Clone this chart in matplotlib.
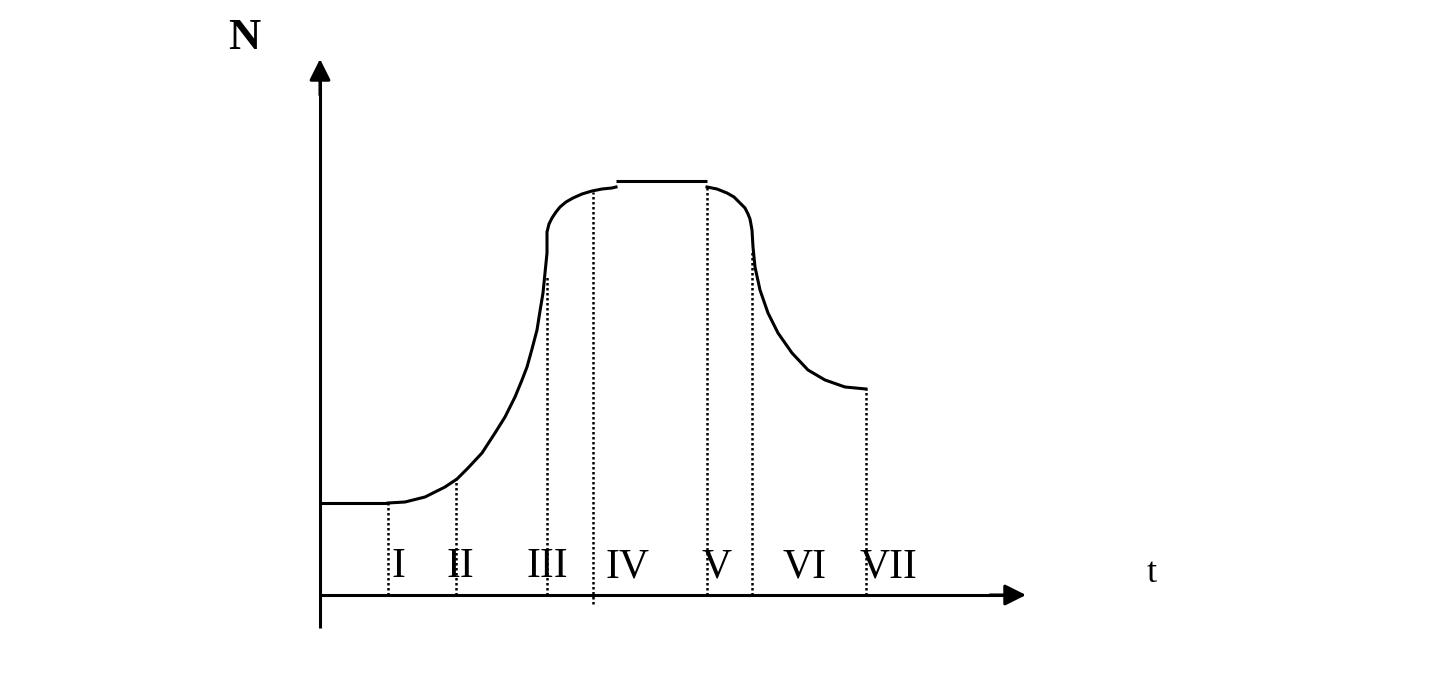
import matplotlib
matplotlib.use("Agg")
import matplotlib.pyplot as plt

# Curve (t, N)
flat_t = [0, 68]
flat_N = [92, 92]

rise_t = [68, 85, 105, 125, 137, 148, 162, 175, 185, 195, 202, 207, 212, 217, 220, 223, 225, 227, 227, 229, 232, 236, 240, 246, 253, 262, 272, 282, 292, 296]
rise_N = [92, 93, 98, 108, 116, 127, 142, 162, 178, 198, 215, 228, 246, 265, 284, 302, 322, 342, 363, 371, 377, 383, 388, 393, 397, 401, 404, 406, 407, 408]

plateau_t = [296, 387]
plateau_N = [414, 414]

fall_t = [387, 397, 407, 414, 420, 425, 428, 430, 432, 433, 435, 440, 448, 458, 472, 488, 505, 525, 546]
fall_N = [408, 406, 402, 398, 392, 387, 381, 376, 365, 348, 328, 305, 282, 262, 242, 225, 215, 208, 206]

# Phase boundaries (dotted lines)
phase_t = [68, 136, 227, 273, 387, 432, 546]
phase_bottom = [0, 0, 0, -9, 0, 0, 0]
phase_top = [92, 117, 318, 403, 408, 345, 206]

phase_labels = ["I", "II", "III", "IV", "V", "VI", "VII"]
label_t = [78, 140, 227, 308, 397, 485, 568]

fig = plt.figure(figsize=(14.33, 6.73), dpi=100)
ax = fig.add_axes([0, 0, 1, 1])
ax.set_xlim(-320, 1113)
ax.set_ylim(-78, 595)
ax.axis("off")

serif = ["Liberation Serif", "DejaVu Serif"]
lw = 2.2

# axes with arrows
ax.plot([0, 0], [-33, 520], color="black", lw=lw, solid_capstyle="butt")
ax.annotate("", xy=(0, 536), xytext=(0, 500),
            arrowprops=dict(arrowstyle="-|>", mutation_scale=32, lw=lw,
                            color="black", shrinkA=0, shrinkB=0))
ax.plot([0, 690], [0, 0], color="black", lw=lw, solid_capstyle="butt")
ax.annotate("", xy=(706, 0), xytext=(670, 0),
            arrowprops=dict(arrowstyle="-|>", mutation_scale=32, lw=lw,
                            color="black", shrinkA=0, shrinkB=0))

# curve
ax.plot(flat_t, flat_N, color="black", lw=lw, solid_capstyle="butt")
ax.plot(rise_t, rise_N, color="black", lw=lw, solid_joinstyle="round")
ax.plot(plateau_t, plateau_N, color="black", lw=lw, solid_capstyle="butt")
ax.plot(fall_t, fall_N, color="black", lw=lw, solid_joinstyle="round")

# dotted phase lines
for x, b, t in zip(phase_t, phase_bottom, phase_top):
    ax.plot([x, x], [b, t], color="black", lw=1.8, linestyle=(0, (1, 1)))

# labels
for x, s in zip(label_t, phase_labels):
    ax.text(x, 18, s, ha="center", va="baseline", fontsize=30,
            family=serif, color="black")

ax.text(-76, 557, "N", ha="center", va="center", fontsize=32,
        fontweight="bold", family=serif, color="black")
ax.text(832, 22, "t", ha="center", va="center", fontsize=26,
        family=serif, color="black")

fig.savefig("out.png", dpi=100)
